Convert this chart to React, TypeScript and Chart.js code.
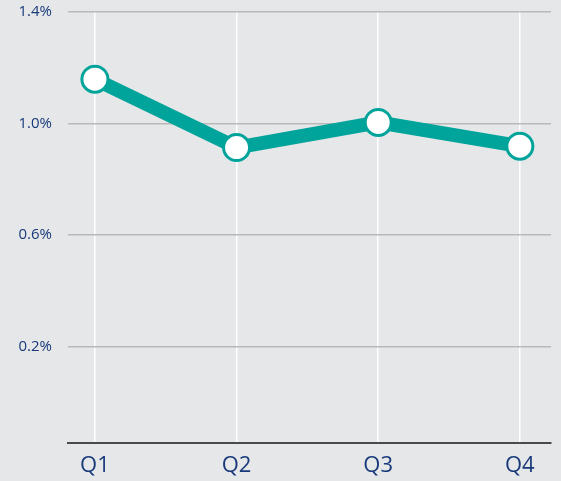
import React, { useEffect, useRef } from "react";
import { Chart, registerables } from "chart.js";

Chart.register(...registerables);

const categories = ["Q1", "Q2", "Q3", "Q4"];
const values = [1.159, 0.914, 1.004, 0.919];
const yTicks = [0.2, 0.6, 1.0, 1.4];

const TEAL = "#00a49a";
const TEXT = "#183a7a";

export default function App() {
  const ref = useRef<HTMLCanvasElement | null>(null);
  useEffect(() => {
    if (!ref.current) return;
    const chart = new Chart(ref.current, {
      type: "line",
      data: {
        datasets: [
          {
            data: values.map((v, i) => ({ x: i, y: v })),
            borderColor: TEAL,
            borderWidth: 14,
            pointRadius: 13,
            pointBackgroundColor: "#ffffff",
            pointBorderColor: TEAL,
            pointBorderWidth: 3,
            tension: 0,
            clip: false as any,
          },
        ],
      },
      options: {
        animation: false,
        responsive: false,
        maintainAspectRatio: false,
        layout: { autoPadding: false, padding: { top: 12, right: 10, left: 0, bottom: 0 } },
        plugins: { legend: { display: false }, tooltip: { enabled: false } },
        scales: {
          x: {
            type: "linear",
            min: -0.19,
            max: 3.22,
            afterBuildTicks: (s: any) => {
              s.ticks = categories.map((_, i) => ({ value: i }));
            },
            afterFit: (s: any) => {
              s.height = 38;
              s.paddingLeft = 0;
              s.paddingRight = 0;
            },
            ticks: {
              callback: (v: any) => categories[v as number] ?? "",
              color: TEXT,
              font: { family: "Open Sans", size: 22 },
              padding: 10,
              maxRotation: 0,
            },
            grid: { color: "#ffffff", lineWidth: 1.5, drawTicks: false },
            border: { display: true, color: "#4a4a4a", width: 2 },
          },
          y: {
            type: "linear",
            min: -0.145,
            max: 1.4,
            afterBuildTicks: (s: any) => {
              s.ticks = yTicks.map((v) => ({ value: v }));
            },
            afterFit: (s: any) => {
              s.width = 68;
              s.paddingTop = 0;
              s.paddingBottom = 0;
            },
            ticks: {
              callback: (v: any) => (v as number).toFixed(1) + "%",
              color: TEXT,
              font: { family: "Open Sans", size: 15 },
              padding: 16,
            },
            grid: { color: "#b9b9b9", lineWidth: 1.5, drawTicks: false },
            border: { display: false },
          },
        },
      },
    });
    return () => chart.destroy();
  }, []);
  return (
    <div
      style={{
        position: "fixed",
        left: 0,
        top: 0,
        width: 561,
        height: 481,
        background: "#e6e7e9",
      }}
    >
      <canvas ref={ref} width={561} height={481} style={{ display: "block" }} />
    </div>
  );
}
